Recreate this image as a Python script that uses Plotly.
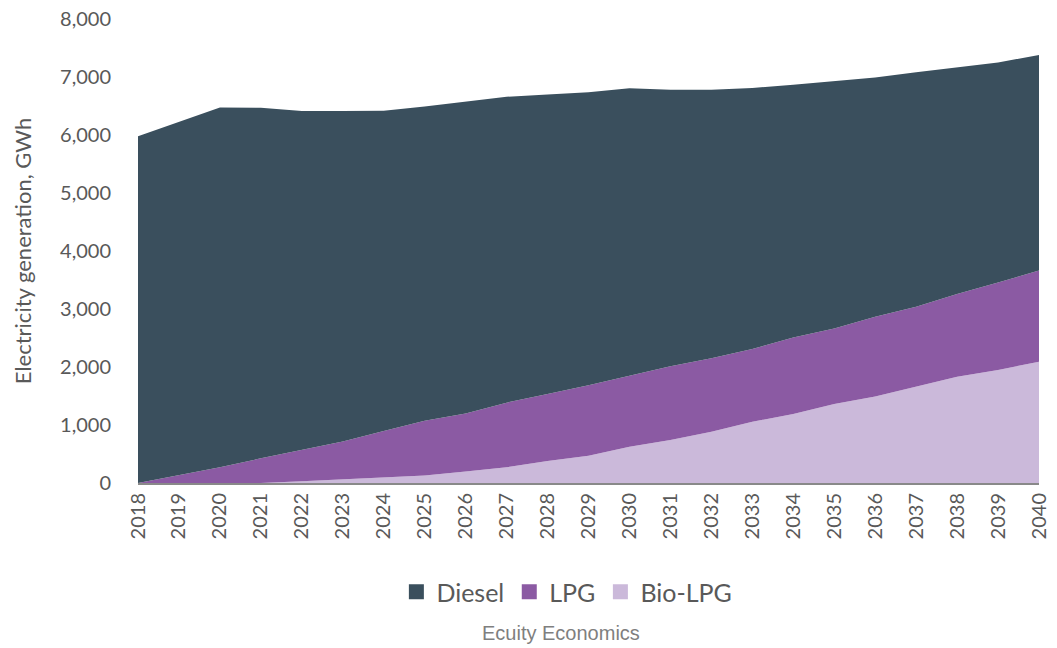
import plotly.graph_objects as go

years = list(range(2018, 2041))
bio_lpg = [0, 0, 0, 0, 30, 60, 90, 130, 200, 270, 380, 470, 625, 740, 885,
           1055, 1190, 1360, 1490, 1660, 1830, 1950, 2090]
lpg = [0, 135, 270, 425, 540, 655, 805, 945, 1000, 1115, 1155, 1215, 1225,
       1275, 1265, 1255, 1320, 1305, 1375, 1380, 1430, 1505, 1575]
diesel = [5980, 6095, 6205, 6045, 5845, 5700, 5525, 5415, 5380, 5275, 5165,
          5050, 4955, 4765, 4630, 4500, 4355, 4260, 4125, 4040, 3900, 3795, 3715]

TEXT = "#595959"
FONT = "Lato"

series = [
    ("Bio-LPG", bio_lpg, "#CBB9DA"),
    ("LPG", lpg, "#8B5AA3"),
    ("Diesel", diesel, "#3A4F5D"),
]

fig = go.Figure()
for name, vals, col in series:
    fig.add_trace(go.Scatter(
        x=years, y=vals, name=name, stackgroup="one",
        mode="lines", line=dict(width=0, color=col), fillcolor=col,
        showlegend=False,
    ))
# square legend keys, like the original
for name, vals, col in series[::-1]:
    fig.add_trace(go.Scatter(
        x=[None], y=[None], name=name, mode="markers",
        marker=dict(symbol="square", size=15, color=col),
    ))

fig.update_xaxes(
    range=[2018, 2040], tickmode="array", tickvals=years,
    ticktext=[str(y) for y in years], tickangle=-90,
    tickfont=dict(family=FONT, size=20, color=TEXT),
    showgrid=False, zeroline=False, showline=True,
    linecolor="#898989", linewidth=2, ticks="", automargin=False,
)
fig.update_yaxes(
    range=[0, 8000], dtick=1000, tickformat=",",
    tickfont=dict(family=FONT, size=20, color=TEXT),
    showgrid=False, zeroline=False, showline=False, ticks="",
    ticklabelstandoff=26, automargin=False,
    title=dict(text="Electricity generation, GWh", standoff=22,
               font=dict(family=FONT, size=22, color=TEXT)),
)
fig.update_layout(
    width=1057, height=648,
    margin=dict(l=138, r=18, t=19, b=165),
    paper_bgcolor="white", plot_bgcolor="white",
    showlegend=True,
    legend=dict(
        orientation="h", traceorder="normal",
        x=0.476, xanchor="center", y=-0.235, yanchor="middle",
        font=dict(family=FONT, size=25, color=TEXT),
        itemwidth=30, tracegroupgap=0,
    ),
    annotations=[dict(
        text="Ecuity Economics", xref="paper", yref="paper",
        x=0.47, y=-0.323, xanchor="center", yanchor="middle", showarrow=False,
        font=dict(family="Liberation Sans", size=20, color="#7F7F7F"),
    )],
)

fig.write_html("out.html", config={"displayModeBar": False},
               post_script="document.body.style.margin='0';")
